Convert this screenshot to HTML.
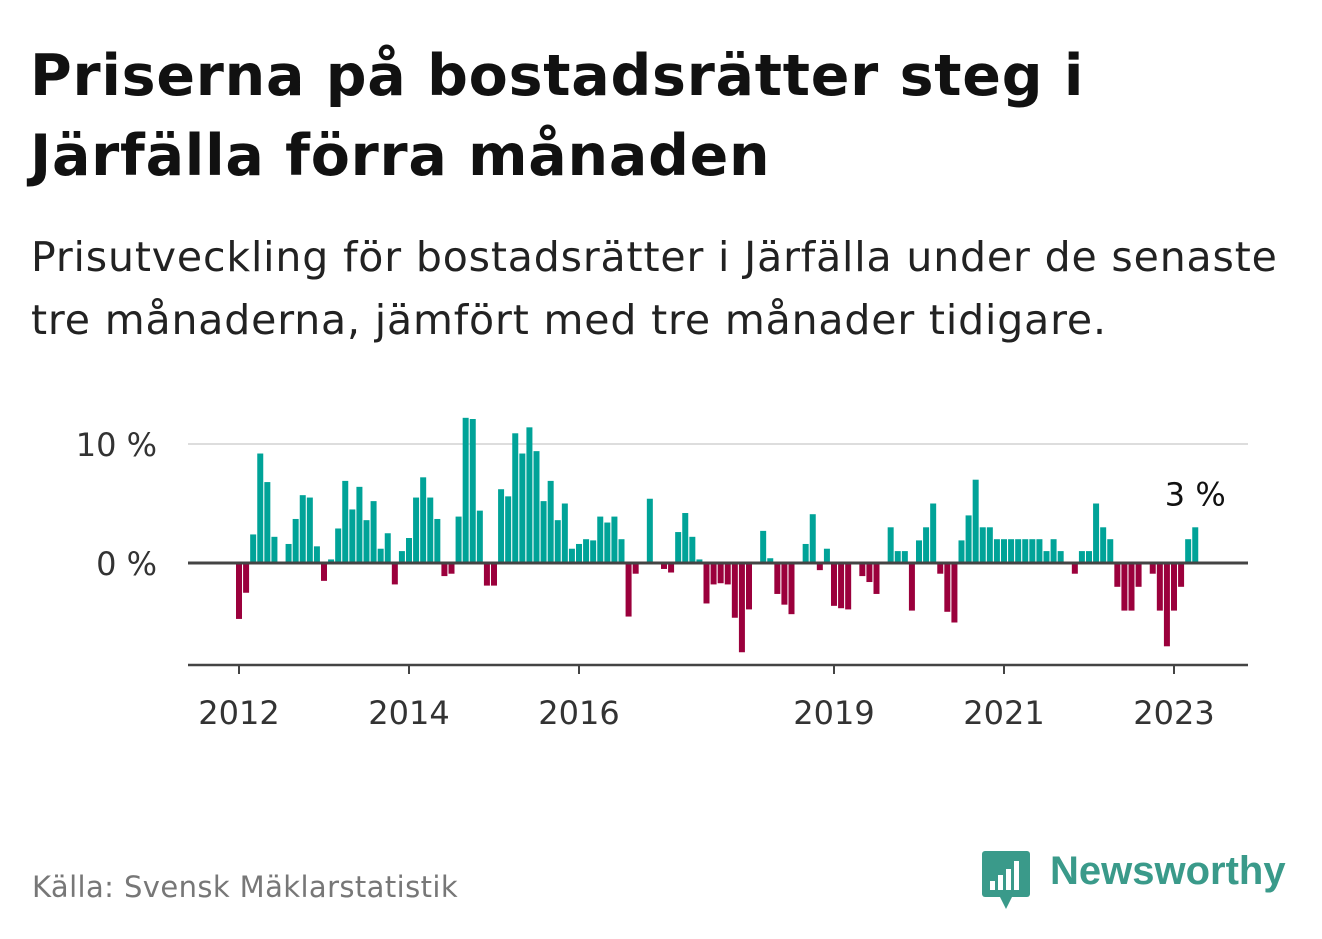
<!DOCTYPE html>
<html><head><meta charset="utf-8"><style>
body{margin:0;background:#fff;width:1322px;height:939px;overflow:hidden;font-family:"DejaVu Sans","Liberation Sans",sans-serif;position:relative}
.t{position:absolute;left:30px;top:36px;font-size:57px;font-weight:bold;line-height:80px;color:#111;letter-spacing:0.75px;white-space:nowrap}
.s{position:absolute;left:31px;top:226px;font-size:41px;line-height:63px;color:#222;letter-spacing:0.85px;white-space:nowrap}
.src{position:absolute;left:32px;top:870px;font-size:29px;color:#777;letter-spacing:0.4px;white-space:nowrap}
.logo{position:absolute;left:1050px;top:849px;font-family:"Liberation Sans",sans-serif;font-size:40px;font-weight:bold;color:#3a9a8a}
</style></head><body>
<div class="t">Priserna på bostadsrätter steg i<br>Järfälla förra månaden</div>
<div class="s">Prisutveckling för bostadsrätter i Järfälla under de senaste<br>tre månaderna, jämfört med tre månader tidigare.</div>
<svg id="c" width="1322" height="939" style="position:absolute;left:0;top:0;font-family:'DejaVu Sans',sans-serif"></svg>
<div class="src">Källa: Svensk Mäklarstatistik</div>
<svg style="position:absolute;left:982px;top:851px" width="50" height="60">
<rect x="0" y="0" width="48" height="46" rx="3" fill="#3a9a8a"/><polygon points="18,46 30,46 24,58" fill="#3a9a8a"/>
<rect x="8" y="30" width="5" height="9" fill="#fff"/><rect x="16" y="24" width="5" height="15" fill="#fff"/><rect x="24" y="18" width="5" height="21" fill="#fff"/><rect x="32" y="10" width="5" height="29" fill="#fff"/></svg>
<div class="logo">Newsworthy</div>
<script>
const values=[-4.7,-2.5,2.4,9.2,6.8,2.2,0,1.6,3.7,5.7,5.5,1.4,-1.5,0.3,2.9,6.9,4.5,6.4,3.6,5.2,1.2,2.5,-1.8,1.0,2.1,5.5,7.2,5.5,3.7,-1.1,-0.9,3.9,12.2,12.1,4.4,-1.9,-1.9,6.2,5.6,10.9,9.2,11.4,9.4,5.2,6.9,3.6,5.0,1.2,1.6,2.0,1.9,3.9,3.4,3.9,2.0,-4.5,-0.9,0,5.4,0,-0.5,-0.8,2.6,4.2,2.2,0.3,-3.4,-1.8,-1.7,-1.8,-4.6,-7.5,-3.9,0,2.7,0.4,-2.6,-3.5,-4.3,0,1.6,4.1,-0.6,1.2,-3.6,-3.8,-3.9,0,-1.1,-1.6,-2.6,0,3.0,1.0,1.0,-4.0,1.9,3.0,5.0,-0.9,-4.1,-5.0,1.9,4.0,7.0,3.0,3.0,2.0,2.0,2.0,2.0,2.0,2.0,2.0,1.0,2.0,1.0,0,-0.9,1.0,1.0,5.0,3.0,2.0,-2.0,-4.0,-4.0,-2.0,0,-0.9,-4.0,-7.0,-4.0,-2.0,2.0,3.0];
const startYear=2012;
const yearTicks=[2012,2014,2016,2019,2021,2023];
const yTicks=[0,10];
const lastLabel="3 %";
const svg=document.getElementById('c');const NS='http://www.w3.org/2000/svg';
function X(i){return 239+i*85/12;}
function Y(v){return 563-v*11.9;}
function mk(t,a,name){const e=document.createElementNS(NS,t);for(const k in a)e.setAttribute(k,a[k]);


svg.appendChild(e);return e;}
yTicks.forEach(v=>{if(v!==0)mk('line',{x1:188,x2:1248,y1:Y(v),y2:Y(v),stroke:'#ddd','stroke-width':2},'gridline');
const t=mk('text',{x:157,y:Y(v)+12,'text-anchor':'end','font-size':32,fill:'#333'},'y-tick-label');t.textContent=v+' %';});
values.forEach((v,i)=>{if(v===0)return;const y=Y(Math.max(v,0));
mk('rect',{x:X(i)-3,y:y,width:6,height:Math.abs(v)*11.9,fill:v>0?'#00a398':'#9b003c'},'bar');});
mk('line',{x1:188,x2:1248,y1:Y(0),y2:Y(0),stroke:'#444','stroke-width':3},'zero-line');
mk('line',{x1:188,x2:1248,y1:665,y2:665,stroke:'#444','stroke-width':2.5},'x-axis');
yearTicks.forEach(yr=>{const x=X((yr-startYear)*12);
mk('line',{x1:x,x2:x,y1:665,y2:674,stroke:'#444','stroke-width':2},'x-tick');
const t=mk('text',{x:x,y:724,'text-anchor':'middle','font-size':32,fill:'#333'},'x-tick-label');t.textContent=yr;});
const li=values.length-1;
const lt=mk('text',{x:X(li),y:Y(values[li])-22,'text-anchor':'middle','font-size':32,fill:'#111'},'last-value-label');lt.textContent=lastLabel;
</script>
</body></html>
